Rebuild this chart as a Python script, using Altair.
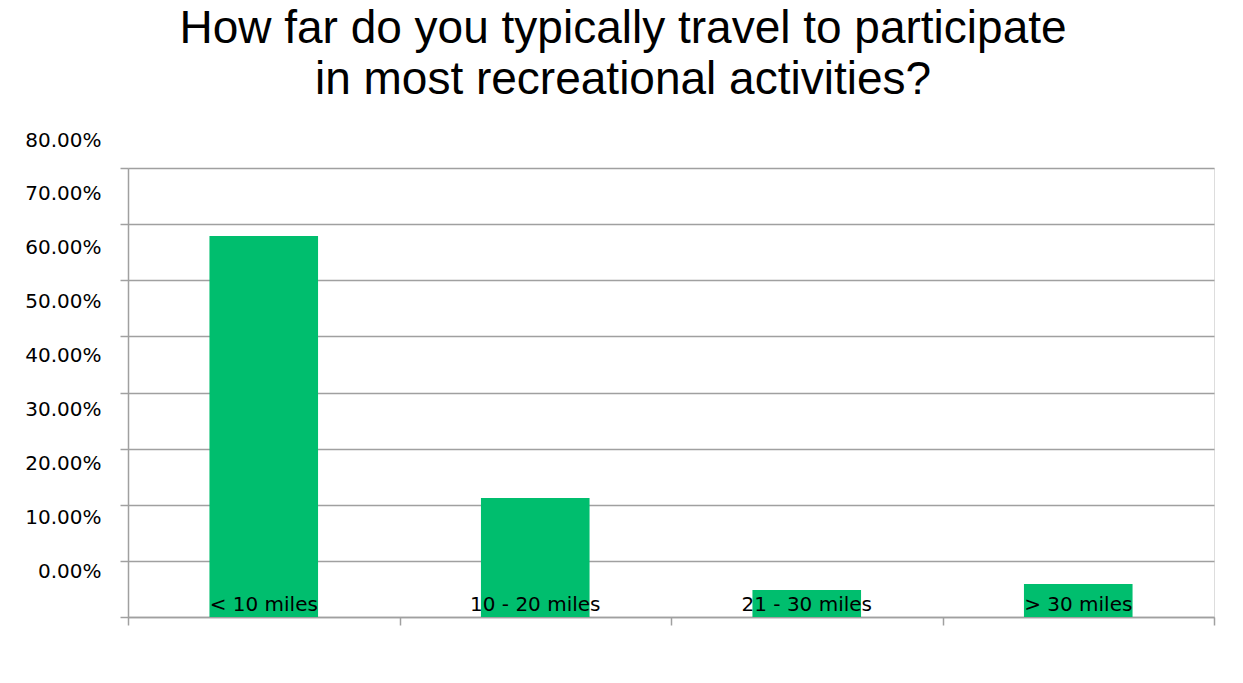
import altair as alt
import pandas as pd

categories = ["< 10 miles", "10 - 20 miles", "21 - 30 miles", "> 30 miles"]
shares = [0.679, 0.212, 0.048, 0.059]
y_ticks = [0, 0.1, 0.2, 0.3, 0.4, 0.5, 0.6, 0.7, 0.8]
title_lines = ["How far do you typically travel to participate", "in most recreational activities?"]

df = pd.DataFrame({"category": categories, "share": shares})

GRID = "#a0a0a0"
FONT = "DejaVu Sans"

x_enc = alt.X(
    "category:N",
    sort=categories,
    scale=alt.Scale(paddingInner=0, paddingOuter=0),
    axis=alt.Axis(
        title=None, labels=False, tickBand="extent", tickSize=8,
        tickColor=GRID, domainColor=GRID, domainWidth=1.5, tickWidth=1.5,
        grid=False,
    ),
)
y_enc = alt.Y(
    "share:Q",
    scale=alt.Scale(domain=[0, 0.8], nice=False),
    axis=alt.Axis(
        title=None, values=y_ticks, format=".2%", tickSize=8,
        tickColor=GRID, domainColor=GRID, gridColor=GRID,
        domainWidth=1.5, tickWidth=1.5, gridWidth=1.5,
        labelFont=FONT, labelFontSize=20, labelColor="#000000",
        labelPadding=19,
        labelOffset={"expr": "-45.5 + 21.9*datum.value"},
    ),
)

bars = alt.Chart(df).mark_bar(
    color="#00BE6E", width=alt.RelativeBandSize(0.4)
).encode(x=x_enc, y=y_enc)

labels = alt.Chart(df).mark_text(
    font=FONT, fontSize=20, color="#000000", baseline="alphabetic", dy=-6
).encode(
    x=alt.X("category:N", sort=categories),
    y=alt.datum(0),
    text="category:N",
)

chart = (
    alt.layer(bars, labels)
    .properties(
        width=1086,
        height=449,
        autosize=alt.AutoSizeParams(type="none"),
        padding={"left": 120, "top": 160, "right": 20, "bottom": 66},
        title=alt.TitleParams(
            text=title_lines, font="Liberation Sans", fontSize=46,
            fontWeight="normal", color="#000000", anchor="middle",
            dx=-48, offset=26, lineHeight=51.5,
        ),
    )
    .configure_view(stroke=None)
    .configure(background="white")
)

chart.save("out.html", embed_options={"renderer": "svg", "actions": False})
